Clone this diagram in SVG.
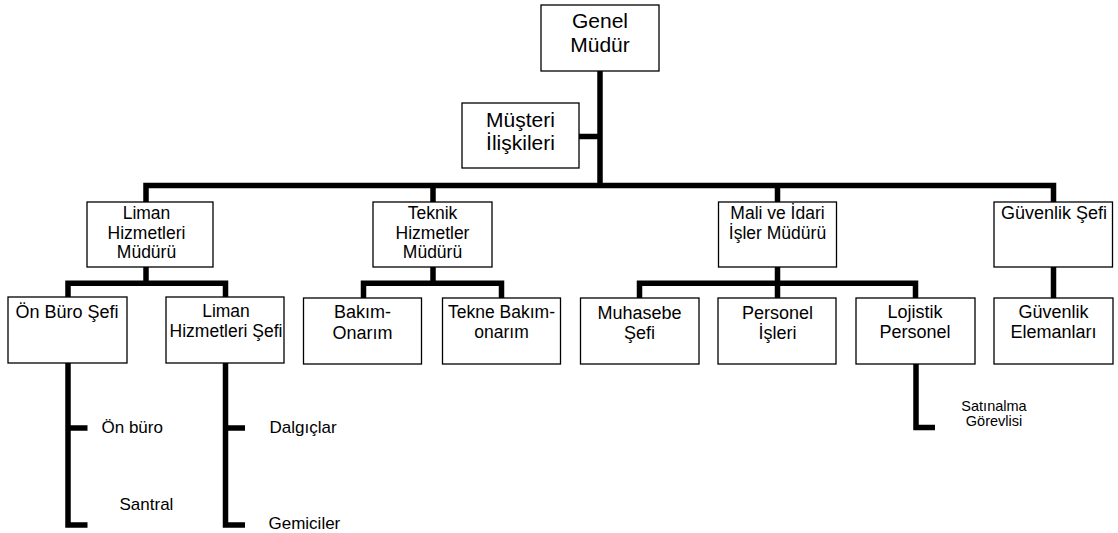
<svg xmlns="http://www.w3.org/2000/svg" width="1118" height="533" viewBox="0 0 1118 533">
<style>
.box{fill:#fff;stroke:#000;stroke-width:1.3}
.t{font-family:"Liberation Sans",Arial,sans-serif;fill:#000;text-anchor:middle}
.big{font-size:21px}
.mid{font-size:17.5px}
.low{font-size:18px}
.leaf{font-family:"Liberation Sans",Arial,sans-serif;fill:#000;font-size:17px}
.small{font-size:14.5px}
.c{fill:none;stroke:#000;stroke-width:5.5;stroke-linejoin:miter;stroke-linecap:butt}
</style>
<rect width="1118" height="533" fill="#fff"/>
<g id="connectors" class="c">
<path d="M600 71 V185.5"/>
<path d="M579 136.5 H600"/>
<path d="M146 202 V185.5 H1053.5 V202"/>
<path d="M433 185.5 V202"/>
<path d="M777.5 185.5 V202"/>
<path d="M146 267 V283.3"/>
<path d="M68 297 V283.3 H225.5 V297"/>
<path d="M433 267 V283.3"/>
<path d="M363.5 298 V283.3 H501.5 V298"/>
<path d="M777.5 267 V298"/>
<path d="M639.5 298 V283.3 H915.5 V298"/>
<path d="M1053.5 267 V298"/>
<path d="M68 363 V525 H87.5"/>
<path d="M68 428 H87.5"/>
<path d="M225.5 363 V525 H245"/>
<path d="M225.5 428 H245"/>
<path d="M916 364 V427.5 H935"/>
</g>
<g id="genel-mudur">
<rect class="box" x="541" y="5" width="118" height="66"/>
<text class="t big" x="600" y="28">Genel</text>
<text class="t big" x="600" y="52">Müdür</text>
</g>
<g id="musteri-iliskileri">
<rect class="box" x="462" y="103" width="117" height="65"/>
<text class="t big" x="520.5" y="126.5">Müşteri</text>
<text class="t big" x="520.5" y="150">İlişkileri</text>
</g>
<g id="liman-hizmetleri-muduru">
<rect class="box" x="87" y="202" width="126" height="65"/>
<text class="t mid" x="146.5" y="218.5">Liman</text>
<text class="t mid" x="146.5" y="239">Hizmetleri</text>
<text class="t mid" x="146.5" y="258">Müdürü</text>
</g>
<g id="teknik-hizmetler-muduru">
<rect class="box" x="373" y="202" width="119" height="65"/>
<text class="t mid" x="432.5" y="218.5">Teknik</text>
<text class="t mid" x="432.5" y="238.5">Hizmetler</text>
<text class="t mid" x="432.5" y="257.5">Müdürü</text>
</g>
<g id="mali-idari-isler-muduru">
<rect class="box" x="718.5" y="202" width="118" height="65"/>
<text class="t mid" x="777.5" y="218.5">Mali ve İdari</text>
<text class="t mid" x="777.5" y="239">İşler Müdürü</text>
</g>
<g id="guvenlik-sefi">
<rect class="box" x="994" y="202" width="118.5" height="65"/>
<text class="t low" x="1054" y="218.5">Güvenlik Şefi</text>
</g>
<g id="on-buro-sefi">
<rect class="box" x="8" y="297" width="119" height="66"/>
<text class="t low" x="67" y="318">Ön Büro Şefi</text>
</g>
<g id="liman-hizmetleri-sefi">
<rect class="box" x="166" y="297" width="118" height="66"/>
<text class="t mid" x="226" y="317">Liman</text>
<text class="t mid" x="226" y="336.5">Hizmetleri Şefi</text>
</g>
<g id="bakim-onarim">
<rect class="box" x="303.5" y="298" width="118" height="66"/>
<text class="t low" x="362.5" y="318">Bakım-</text>
<text class="t low" x="362.5" y="338.5">Onarım</text>
</g>
<g id="tekne-bakim-onarim">
<rect class="box" x="442.5" y="298" width="118" height="66"/>
<text class="t mid" x="501.5" y="318">Tekne Bakım-</text>
<text class="t mid" x="501.5" y="338">onarım</text>
</g>
<g id="muhasebe-sefi">
<rect class="box" x="580.5" y="298" width="118.5" height="66"/>
<text class="t low" x="639.5" y="318.5">Muhasebe</text>
<text class="t low" x="639.5" y="339">Şefi</text>
</g>
<g id="personel-isleri">
<rect class="box" x="718" y="298" width="118" height="66"/>
<text class="t low" x="777.5" y="318.5">Personel</text>
<text class="t low" x="777.5" y="339">İşleri</text>
</g>
<g id="lojistik-personel">
<rect class="box" x="856" y="298" width="119" height="66"/>
<text class="t low" x="915" y="317.5">Lojistik</text>
<text class="t low" x="915" y="338">Personel</text>
</g>
<g id="guvenlik-elemanlari">
<rect class="box" x="994" y="298" width="119" height="66"/>
<text class="t low" x="1053.5" y="317.5">Güvenlik</text>
<text class="t low" x="1053.5" y="338">Elemanları</text>
</g>
<g id="on-buro"><text class="leaf" x="101.5" y="432.5">Ön büro</text></g>
<g id="santral"><text class="leaf" x="119.5" y="510">Santral</text></g>
<g id="dalgiclar"><text class="leaf" x="269.5" y="432.5">Dalgıçlar</text></g>
<g id="gemiciler"><text class="leaf" x="268.5" y="529">Gemiciler</text></g>
<g id="satinalma-gorevlisi">
<text class="t small" x="994" y="410.5">Satınalma</text>
<text class="t small" x="994" y="426">Görevlisi</text>
</g>
</svg>
